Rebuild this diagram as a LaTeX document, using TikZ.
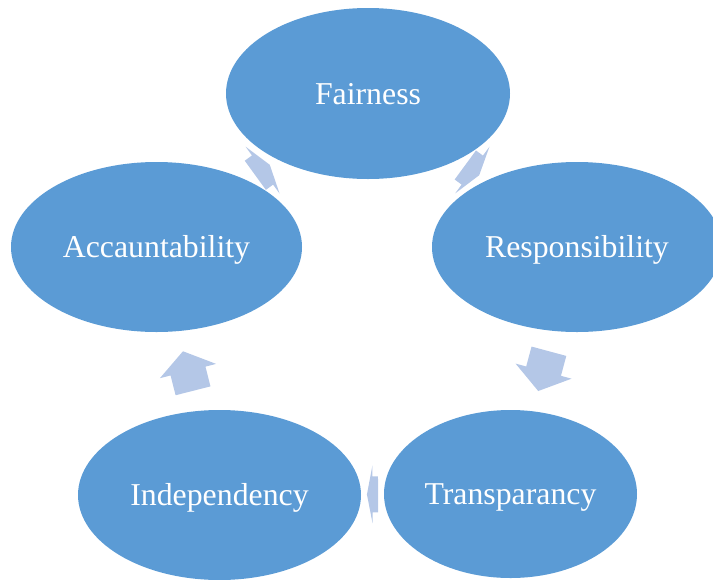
\documentclass[tikz,border=0pt]{standalone}
\usepackage{fontspec}
\setmainfont{Liberation Serif}
\usetikzlibrary{shapes.geometric,decorations.markings,backgrounds}
\definecolor{nodeblue}{HTML}{5B9BD5}
\definecolor{arrowblue}{HTML}{B4C7E7}
\tikzset{
  blob/.style={ellipse, fill=nodeblue, text=white, inner sep=0pt,
    text height=10.5pt, text depth=0pt, font=\fontsize{15.9}{19}\selectfont},
  % block arrow in the gap, length half of the gap
  cycarrow/.style={postaction={decorate}, decoration={markings,
    mark=at position .5 with {\pgfmathsetmacro\q{\pgfdecoratedpathlength*0.5}
      \fill[arrowblue] (-\q,-18)--(0,-18)--(0,-29)--(\q,0)--(0,29)--(0,18)--(-\q,18)--cycle;}}}
}
\begin{document}
\begin{tikzpicture}[x=0.5pt,y=-0.5pt, line join=round]
            \useasboundingbox (0,0) rectangle (713,579);
            % the five stages
            \node[blob, minimum width=142pt, minimum height=85.5pt] (fair) at (368,93.5) {Fairness};
            \node[blob, minimum width=145pt, minimum height=85pt] (resp) at (577,247) {Responsibility};
            \node[blob, minimum width=126.5pt, minimum height=84pt] (transp) at (510.5,494) {Transparancy};
            \node[blob, minimum width=141.5pt, minimum height=85pt] (indep) at (219.5,495) {Independency};
            \node[blob, minimum width=145.5pt, minimum height=85pt] (acc) at (156.5,247) {Accauntability};
            % arrows behind the ellipses
            \begin{scope}[on background layer]
            \foreach \a/\b in {acc/fair,fair/resp,resp/transp,transp/indep,indep/acc}
            \path[cycarrow] (\a)--(\b);
            \end{scope}
        \end{tikzpicture}
\end{document}
